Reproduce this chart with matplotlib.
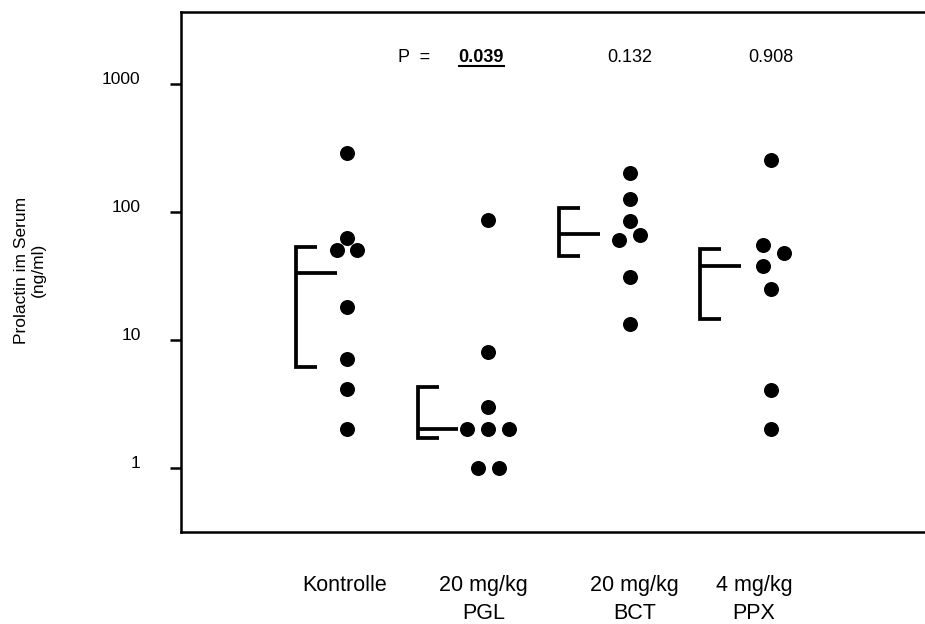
import matplotlib
matplotlib.use('Agg')
import matplotlib.pyplot as plt
from matplotlib import transforms
from matplotlib.lines import Line2D

plt.rcParams['font.family'] = ['Liberation Sans', 'DejaVu Sans']

groups = ['Kontrolle', '20 mg/kg\nPGL', '20 mg/kg\nBCT', '4 mg/kg\nPPX']

# prolactin values per animal (ng/ml)
kontrolle = [290, 63, 50, 50, 18, 7.1, 4.1, 2]
pgl = [86, 8, 3, 2, 2, 2, 1, 1]
bct = [203, 126, 85, 60, 66, 31, 13.2]
ppx = [255, 55, 47.4, 37.7, 24.8, 4.04, 2]

# sideways shift of overlapping dots (in dot widths)
kontrolle_shift = [0, 0, -1, 1, 0, 0, 0, 0]
pgl_shift = [0, 0, 0, -2, 0, 2, -1, 1]
bct_shift = [0, 0, 0, -1, 1, 0, 0]
ppx_shift = [0, -0.75, 1.25, -0.75, 0, 0, 0]

# bracket: lower, middle, upper
bracket_low = [6.1, 1.71, 45.4, 14.5]
bracket_mid = [33.4, 2.0, 66.8, 37.7]
bracket_high = [53.4, 4.29, 107, 51]

p_values = ['0.039', '0.132', '0.908']

values = [kontrolle, pgl, bct, ppx]
shifts = [kontrolle_shift, pgl_shift, bct_shift, ppx_shift]
bracket_gap = [0.36, 0.50, 0.50, 0.50]
label_nudge = [-2, -5, 5, -17]   # pixels
dot_w = 0.074

fig = plt.figure(figsize=(9.25, 6.24), dpi=100)
ax = fig.add_axes([181 / 925, 1 - 532 / 624, 1 - 181 / 925, 520 / 624])
ax.set_yscale('log')
ax.set_ylim(0.313, 3665)
ax.set_xlim(-0.175, 5.09)

for i, (vals, sh) in enumerate(zip(values, shifts)):
    c = i + 1
    xs = [c + s * dot_w for s in sh]
    ax.plot(xs, vals, 'o', color='black', ms=10.8, mew=0)
    xb = c - bracket_gap[i]
    ax.plot([xb + 0.149, xb, xb, xb + 0.149],
            [bracket_high[i], bracket_high[i], bracket_low[i], bracket_low[i]],
            color='black', lw=2.7, solid_joinstyle='miter', solid_capstyle='butt')
    ax.plot([xb, xb + 0.287], [bracket_mid[i], bracket_mid[i]],
            color='black', lw=2.7, solid_capstyle='butt')

ax.set_yticks([1, 10, 100, 1000])
ax.set_yticklabels(['1', '10', '100', '1000'])
ax.minorticks_off()
ax.tick_params(axis='y', length=8, width=1.8, labelsize=12.5, pad=21)
ax.set_xticks([1, 2, 3, 4])
ax.set_xticklabels(groups, linespacing=1.45)
ax.tick_params(axis='x', length=0, labelsize=15.5, pad=31)

up = transforms.ScaledTranslation(0, 0.06, fig.dpi_scale_trans)
for lab in ax.get_yticklabels():
    lab.set_transform(lab.get_transform() + up)
for lab, dx in zip(ax.get_xticklabels(), label_nudge):
    lab.set_transform(lab.get_transform() +
                      transforms.ScaledTranslation(dx / 100, 0, fig.dpi_scale_trans))

for side in ['left', 'top', 'bottom']:
    ax.spines[side].set_linewidth(1.8)
ax.spines['right'].set_visible(False)

fig.text(30 / 925, 1 - 270 / 624, 'Prolactin im Serum\n(ng/ml)', rotation=90,
         ha='center', va='center', multialignment='center', fontsize=12.5)

py = 0.9038
ax.text(1.36, py, 'P  =', transform=ax.get_xaxis_transform(),
        ha='left', va='baseline', fontsize=13)
p_txt = []
for i, p in enumerate(p_values):
    t = ax.text(i + 2, py, p, transform=ax.get_xaxis_transform(),
                ha='center', va='baseline', fontsize=13,
                fontweight='bold' if i == 0 else 'normal')
    p_txt.append(t)
p_txt[0].set_x(1.95)

# underline the significant value
fig.canvas.draw()
bb = p_txt[0].get_window_extent()
yl = (532 - 65.5) / 520
trans = transforms.blended_transform_factory(transforms.IdentityTransform(), ax.transAxes)
ax.add_line(Line2D([bb.x0, bb.x1], [yl, yl], color='black', lw=1.5,
                   transform=trans, clip_on=False))

fig.savefig('out.png', dpi=100)
